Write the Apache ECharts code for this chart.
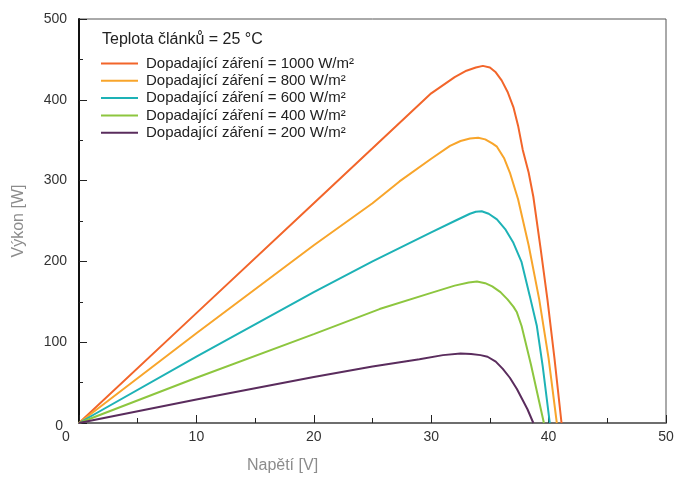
<!DOCTYPE html>
<html>
<head>
<meta charset="utf-8">
<script src="https://cdn.jsdelivr.net/npm/echarts@6/dist/echarts.min.js"></script>
<style>
  html, body { margin: 0; padding: 0; background: #fff; }
  #chart { width: 679px; height: 479px; }
</style>
</head>
<body>
<div id="chart"></div>
<script>
// napětí [V] a výkon [W] pro jednotlivá ozáření
const v1000 = [0, 10, 20, 25, 28, 30, 32, 33, 33.8, 34.4, 35, 35.5, 36, 36.5, 37, 37.4, 37.8, 38.3, 38.7, 39.3, 39.9, 40.5, 41.1];
const p1000 = [0, 136, 272, 340, 381, 408, 428, 436, 440, 442, 440, 434, 424, 410, 391, 368, 338, 310, 280, 218, 153, 80, 0];

const v800 = [0, 10, 20, 25, 27.3, 30, 31.6, 32.5, 33.3, 34, 34.6, 35.2, 35.6, 36.2, 36.7, 37.4, 38.3, 39.2, 40, 40.7];
const p800 = [0, 111, 220, 272, 299, 327, 343, 349, 352, 353, 351, 346, 342, 328, 310, 277, 220, 153, 80, 0];

const v600 = [0, 10, 20, 25, 30, 32, 33.3, 33.8, 34.3, 34.9, 35.6, 36.3, 37, 37.7, 38.4, 39, 39.5, 40.1];
const p600 = [0, 82, 162, 200, 236, 250, 259, 261.5, 262, 259, 252, 240, 223, 199, 157, 120, 70, 0];

const v400 = [0, 10, 20, 25.6, 30, 32, 33.2, 33.9, 34.6, 35.2, 35.9, 36.5, 37, 37.3, 37.7, 38.5, 39.6];
const p400 = [0, 56, 110, 141, 161, 170, 174, 175, 173, 169, 162, 153, 144, 137, 120, 72, 0];

const v200 = [0, 10, 20, 25, 29, 31, 32.5, 33.4, 34.2, 34.8, 35.5, 36.1, 36.7, 37.3, 38.2, 38.7];
const p200 = [0, 29, 57, 70, 79, 84, 86, 85.5, 84, 82, 76, 67, 56, 42, 17, 0];

const seriesNames = [
  'Dopadající záření = 1000 W/m²',
  'Dopadající záření = 800 W/m²',
  'Dopadající záření = 600 W/m²',
  'Dopadající záření = 400 W/m²',
  'Dopadající záření = 200 W/m²'
];
const colors = ['#f2652a', '#f8a52b', '#1db2b6', '#8dc63f', '#5a2c5d'];
const voltages = [v1000, v800, v600, v400, v200];
const powers = [p1000, p800, p600, p400, p200];

const font = '"Liberation Sans", Arial, sans-serif';

const chart = echarts.init(document.getElementById('chart'));

const option = {
  animation: false,
  textStyle: { fontFamily: font },
  grid: {
    left: 79, right: 13, top: 19, bottom: 53,
    show: true, borderColor: '#555', borderWidth: 1
  },
  graphic: [{
    type: 'text',
    left: 102, top: 32,
    style: { text: 'Teplota článků = 25 °C', font: '16px ' + font, fill: '#222' }
  }],
  legend: {
    orient: 'vertical',
    left: 101, top: 56,
    padding: 0,
    icon: 'rect',
    itemWidth: 37, itemHeight: 2,
    itemGap: 2.3,
    textStyle: { fontSize: 15, color: '#222', fontFamily: font, padding: [0, 0, 0, 3] },
    data: seriesNames
  },
  xAxis: {
    type: 'value',
    min: 0, max: 50, interval: 10,
    name: 'Napětí [V]',
    nameLocation: 'middle',
    nameGap: 35,
    nameTextStyle: { fontSize: 16, color: '#8c8c8c', padding: [0, 180, 0, 0] },
    axisLine: { lineStyle: { color: '#6e6e6e', width: 2 } },
    axisTick: { inside: true, length: 8, lineStyle: { color: '#222' } },
    minorTick: { show: true, splitNumber: 2, length: 5, lineStyle: { color: '#222' } },
    splitLine: { show: false },
    axisLabel: {
      fontSize: 14, color: '#333', margin: 7,
      formatter: v => v === 0 ? '{z|0}' : String(v),
      rich: { z: { fontSize: 14, color: '#333', padding: [0, 26, 0, 0] } }
    }
  },
  yAxis: {
    type: 'value',
    min: 0, max: 500, interval: 100,
    name: 'Výkon [W]',
    nameLocation: 'middle',
    nameGap: 52,
    nameTextStyle: { fontSize: 16, color: '#8c8c8c' },
    axisLine: { show: true, lineStyle: { color: '#111', width: 2 } },
    axisTick: { show: true, inside: true, length: 8, lineStyle: { color: '#222' } },
    minorTick: { show: true, splitNumber: 2, length: 4, lineStyle: { color: '#222' } },
    splitLine: { show: false },
    axisLabel: {
      fontSize: 14, color: '#333', margin: 12,
      formatter: v => v === 0 ? '{z|0}' : String(v),
      rich: { z: { fontSize: 14, color: '#333', padding: [6, 4, 0, 0] } }
    }
  },
  series: seriesNames.map((name, i) => ({
    name: name,
    type: 'line',
    data: voltages[i].map((v, j) => [v, powers[i][j]]),
    showSymbol: false,
    smooth: false,
    lineStyle: { width: 2, color: colors[i] },
    itemStyle: { color: colors[i] }
  }))
};

chart.setOption(option);
</script>
</body>
</html>
